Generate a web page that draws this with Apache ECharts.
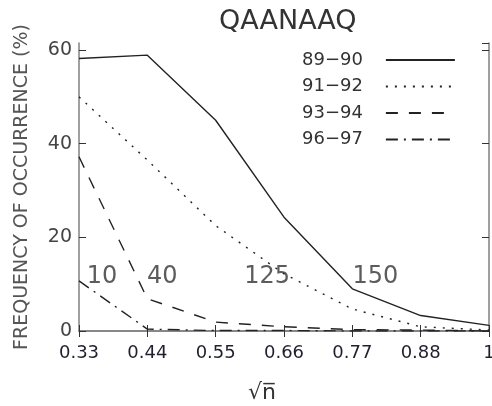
<!DOCTYPE html>
<html>
<head>
<meta charset="utf-8">
<script src="https://cdn.jsdelivr.net/npm/echarts@6/dist/echarts.min.js"></script>
<style>
  html, body { margin: 0; padding: 0; background: #fff; }
  #chart { width: 492px; height: 406px; }
</style>
</head>
<body>
<div id="chart"></div>
<script>
// sqrt(n) positions along the x axis
const xValues = [0.33, 0.44, 0.55, 0.66, 0.77, 0.88, 0.99]

// frequency of occurrence (%) per period
const freq8990 = [58.2, 58.9, 45.0, 24.3, 9.0, 3.3, 1.2]
const freq9192 = [50.0, 36.5, 22.5, 12.2, 4.7, 0.9, 0.2]
const freq9394 = [37.2, 6.9, 1.9, 0.9, 0.3, 0.2, 0.0]
const freq9697 = [10.7, 0.4, 0.1, 0.1, 0.0, 0.0, 0.0]

const seriesNames = ['89−90', '91−92', '93−94', '96−97']

// n annotations placed in data coordinates
const noteTexts = ['10', '40', '125', '150']
const noteX = [0.367, 0.464, 0.633, 0.807]
const noteY = [11.5, 11.5, 11.5, 11.5]

const yTicks = [0, 20, 40, 60]

const lineColor = '#222'
const axisColor = '#808080'
const font = 'DejaVu Sans'

function pairs(ys) {
  return xValues.map((x, i) => [x, ys[i]])
}

function lineSeries(name, ys, type) {
  return {
    name: name,
    type: 'line',
    xAxisIndex: 0,
    yAxisIndex: 0,
    symbol: 'none',
    smooth: false,
    silent: true,
    animation: false,
    lineStyle: {
      color: lineColor,
      width: 1.4,
      type: type
    },
    itemStyle: { color: lineColor },
    data: pairs(ys)
  }
}

const chart = echarts.init(document.getElementById('chart'))

const opt = {
  backgroundColor: '#ffffff',
  animation: false,
  title: {
    text: 'QAANAAQ',
    left: 214,
    top: 3,
    textStyle: {
      fontFamily: font,
      fontWeight: 'normal',
      fontSize: 27,
      color: '#333'
    }
  },
  legend: {
    orient: 'vertical',
    left: 297,
    top: 46,
    align: 'right',
    itemWidth: 69,
    itemHeight: 14,
    itemGap: 8.5,
    data: seriesNames,
    itemStyle: {
      color: 'rgba(0,0,0,0)',
      borderWidth: 0
    },
    textStyle: {
      fontFamily: font,
      fontSize: 18,
      color: '#333',
      padding: [0, 18, 0, 0]
    }
  },
  grid: {
    left: 79,
    right: 3,
    top: 43,
    bottom: 75,
    outerBoundsMode: 'none'
  },
  xAxis: [{
    type: 'value',
    min: 0.33,
    max: 0.99,
    interval: 0.11,
    name: '√n̅',
    nameLocation: 'middle',
    nameGap: 51,
    nameTextStyle: {
      fontFamily: font,
      fontSize: 22,
      color: '#333',
      padding: [0, 44, 0, 0]
    },
    axisLine: { show: true, lineStyle: { color: axisColor, width: 1.5 } },
    axisTick: { show: true, inside: true, length: 6, lineStyle: { color: '#333' } },
    splitLine: { show: false },
    axisLabel: {
      margin: 13,
      fontFamily: font,
      fontSize: 18,
      color: '#1f1f2e',
      formatter: function (v) {
        if (v > 0.98) return '1'
        return v.toFixed(2)
      }
    }
  }, {
    type: 'value',
    position: 'top',
    min: 0.33,
    max: 0.99,
    interval: 0.11,
    axisLine: { show: true, lineStyle: { color: axisColor, width: 1.5 } },
    axisTick: { show: true, inside: true, length: 6, lineStyle: { color: '#333' } },
    axisLabel: { show: false },
    splitLine: { show: false }
  }],
  yAxis: [{
    type: 'value',
    min: 0,
    max: 61.5,
    interval: 20,
    name: 'FREQUENCY OF OCCURRENCE (%)',
    nameLocation: 'middle',
    nameGap: 47,
    nameTextStyle: {
      fontFamily: font,
      fontSize: 19,
      color: '#555'
    },
    axisLine: { show: true, lineStyle: { color: axisColor, width: 1.5 } },
    axisTick: { show: true, inside: true, length: 7, lineStyle: { color: '#333' } },
    splitLine: { show: false },
    axisLabel: {
      margin: 7,
      fontFamily: font,
      fontSize: 19,
      color: '#444',
      showMaxLabel: false,
      formatter: function (v) {
        return yTicks.indexOf(v) >= 0 ? String(v) : ''
      }
    }
  }, {
    type: 'value',
    position: 'right',
    min: 0,
    max: 61.5,
    interval: 20,
    axisLine: { show: true, lineStyle: { color: axisColor, width: 1.5 } },
    axisTick: { show: true, inside: true, length: 7, lineStyle: { color: '#333' } },
    axisLabel: { show: false },
    splitLine: { show: false }
  }],
  series: [
    lineSeries(seriesNames[0], freq8990, 'solid'),
    lineSeries(seriesNames[1], freq9192, [2, 7]),
    lineSeries(seriesNames[2], freq9394, [12, 11]),
    lineSeries(seriesNames[3], freq9697, [12, 6, 2, 6]),
    {
      name: 'notes',
      type: 'scatter',
      symbolSize: 0,
      silent: true,
      label: {
        show: true,
        position: 'inside',
        formatter: function (p) { return noteTexts[p.dataIndex] },
        fontFamily: font,
        fontSize: 24,
        color: '#333'
      },
      data: noteX.map((x, i) => [x, noteY[i]])
    }
  ]
}

chart.setOption(opt)
</script>
</body>
</html>
